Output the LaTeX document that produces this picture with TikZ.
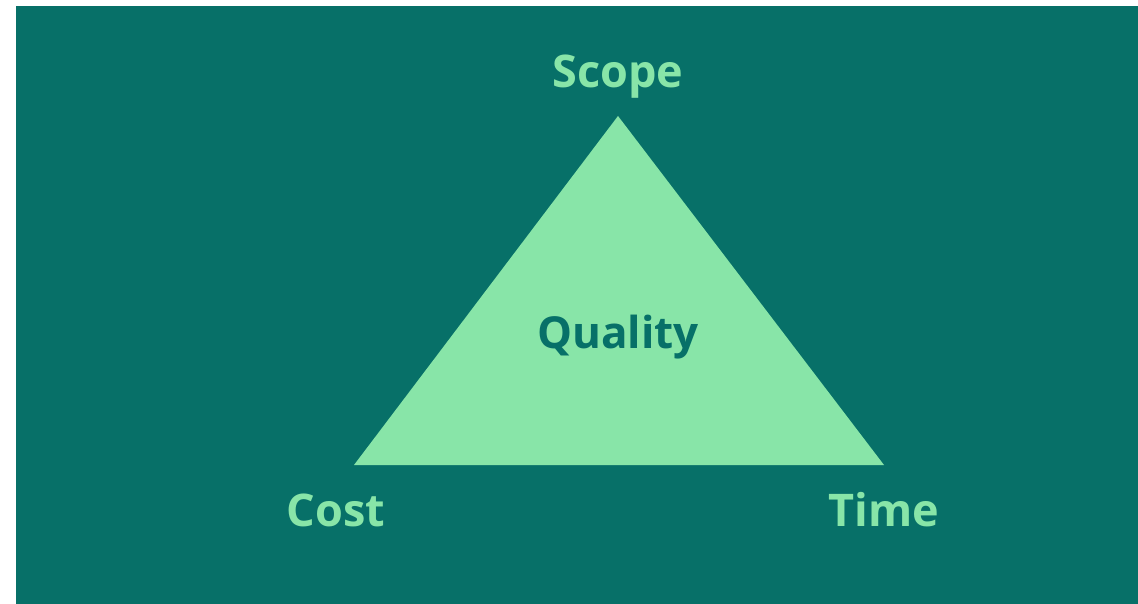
\documentclass[tikz,border=0pt]{standalone}
\usepackage{fontspec}
\setmainfont{Open Sans}
\definecolor{teal1}{HTML}{077068}
\definecolor{mint}{HTML}{88E5A8}
\begin{document}
\begin{tikzpicture}[x=1pt,y=-1pt,
  lbl/.style={font=\fontsize{45}{54}\selectfont\bfseries, text=mint, inner sep=0pt, anchor=center},
  qlbl/.style={font=\fontsize{44}{53}\selectfont\bfseries, text=teal1, inner sep=0pt, anchor=center}]
\useasboundingbox (0,0) rectangle (1138,604);
\fill[teal1] (16,6) rectangle (1138,604);
\coordinate (apex) at (618,116);
\coordinate (bl) at (354,465);
\coordinate (br) at (884,465);
\fill[mint] (apex) -- (bl) -- (br) -- cycle;
\node[lbl] (scope) at (618,77) {Scope};
\node[qlbl] (quality) at (618,337) {Quality};
\node[lbl] (cost) at (336,510) {Cost};
\node[lbl] (time) at (884,510) {Time};
\end{tikzpicture}
\end{document}
